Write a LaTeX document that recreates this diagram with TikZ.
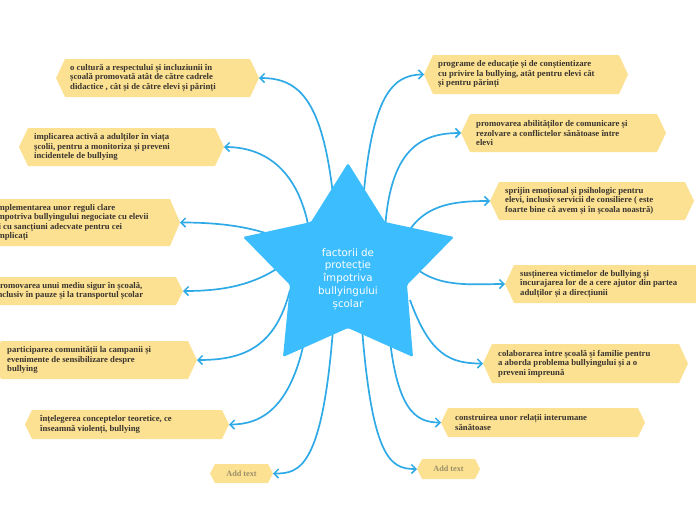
\documentclass[tikz,border=0pt]{standalone}
\usepackage{fontspec}
\setmainfont{Liberation Serif}
\newfontfamily\starfont{DejaVu Sans}
\usetikzlibrary{arrows.meta}
\definecolor{boxfill}{HTML}{FCE192}
\definecolor{txtcol}{HTML}{3A3530}
\definecolor{addcol}{HTML}{9A8F6A}
\definecolor{linkcol}{HTML}{2FAAE6}
\definecolor{starcol}{HTML}{3CBDFD}
\tikzset{
  boxnode/.style={inner sep=0pt, outer sep=0pt, minimum width=205pt, minimum height=38pt},
  btxt/.style={anchor=west, inner sep=0pt, align=left, text=txtcol,
    font=\bfseries\fontsize{8.7}{9.5}\selectfont},
  addtxt/.style={inner sep=0pt, text=addcol, font=\bfseries\fontsize{8.2}{9}\selectfont},
  link/.style={draw=linkcol, line width=1.7pt, -{Straight Barb[length=4.5pt,width=9pt,line width=1.5pt]}},
}
\begin{document}
\begin{tikzpicture}[x=1pt,y=-1pt]
\useasboundingbox (0,0) rectangle (696,520);
% box nodes
\node[boxnode, minimum width=203pt] (L1) at (157.5,78) {};
\node[boxnode] (L2) at (121.5,147) {};
\node[boxnode, minimum height=47pt] (L3) at (77.5,222.5) {};
\node[boxnode, minimum height=28pt] (L4) at (80.5,291) {};
\node[boxnode] (L5) at (94.5,360) {};
\node[boxnode, minimum width=204pt, minimum height=29pt] (L6) at (127,424.5) {};
\node[boxnode, minimum width=63pt, minimum height=19pt] (L7) at (241.5,473.5) {};
\node[boxnode, minimum width=204pt, minimum height=39pt] (R1) at (526,74.5) {};
\node[boxnode] (R2) at (563.5,133) {};
\node[boxnode, minimum width=204pt] (R3) at (592,201) {};
\node[boxnode] (R4) at (607.5,284) {};
\node[boxnode, minimum height=39pt] (R5) at (585.5,363.5) {};
\node[boxnode, minimum width=204pt, minimum height=29pt] (R6) at (543,422.5) {};
\node[boxnode, minimum width=63pt, minimum height=20pt] (R7) at (448.5,469) {};
% hexagon fills
\foreach \n/\i in {L1/9,L2/9,L3/10,L4/7,L5/9,L6/7,L7/5,R1/9,R2/9,R3/9,R4/9,R5/9,R6/7,R7/5}{
  \fill[boxfill] (\n.west) -- ([xshift=\i]\n.north west) -- ([xshift=-\i]\n.north east)
    -- (\n.east) -- ([xshift=-\i]\n.south east) -- ([xshift=\i]\n.south west) -- cycle;
}
% texts
\node[btxt] (L1t) at (70,78) {o cultură a respectului și incluziunii în\\școală promovată atât de către cadrele\\didactice , cât și de către elevi și părinți};
\node[btxt] (L2t) at (34,147) {implicarea activă a adulților în viața\\școlii, pentru a monitoriza și preveni\\incidentele de bullying};
\node[btxt] (L3t) at (-5,222.5) {implementarea unor reguli clare\\împotriva bullyingului negociate cu elevii\\și cu sancțiuni adecvate pentru cei\\implicați};
\node[btxt] (L4t) at (-5,291) {promovarea unui mediu sigur în școală,\\inclusiv în pauze și la transportul școlar};
\node[btxt] (L5t) at (7,360) {participarea comunității la campanii și\\evenimente de sensibilizare despre\\bullying};
\node[btxt] (L6t) at (40,424.5) {înțelegerea conceptelor teoretice, ce\\înseamnă violenți, bullying};
\node[addtxt] (L7t) at (241.5,473.5) {Add text};
\node[btxt] (R1t) at (438,74.5) {programe de educație și de conștientizare\\cu privire la bullying, atât pentru elevi cât\\și pentru părinți};
\node[btxt] (R2t) at (476,133) {promovarea abilităților de comunicare și\\rezolvare a conflictelor sănătoase între\\elevi};
\node[btxt] (R3t) at (505,201) {sprijin emoțional și psihologic pentru\\elevi, inclusiv servicii de consiliere ( este\\foarte bine că avem și în școala noastră)};
\node[btxt] (R4t) at (520,284) {susținerea victimelor de bullying și\\încurajarea lor de a cere ajutor din partea\\adulților și a direcțiunii};
\node[btxt] (R5t) at (498,363.5) {colaborarea între școală și familie pentru\\a aborda problema bullyingului și a o\\preveni împreună};
\node[btxt] (R6t) at (455,422.5) {construirea unor relații interumane\\sănătoase};
\node[addtxt] (R7t) at (448.5,469) {Add text};
% connector starts (hidden behind the star)
\coordinate (sL1) at (335,215);
\coordinate (sL2) at (310,235);
\coordinate (sL3) at (300,250);
\coordinate (sL4) at (300,250);
\coordinate (sL5) at (290,290);
\coordinate (sL6) at (308,320);
\coordinate (sL7) at (335,300);
\coordinate (sR1) at (362,215);
\coordinate (sR2) at (385,230);
\coordinate (sR3) at (400,250);
\coordinate (sR4) at (400,250);
\coordinate (sR5) at (410,300);
\coordinate (sR6) at (388,320);
\coordinate (sR7) at (360,300);
% connectors
\draw[link] (sL1) .. controls (325,100) and (300,78) .. (L1.east);
\draw[link] (sL2) .. controls (300,170) and (265,147) .. (L2.east);
\draw[link] (sL3) .. controls (270,228) and (225,222.5) .. (L3.east);
\draw[link] (sL4) .. controls (265,285) and (225,291) .. (L4.east);
\draw[link] (sL5) .. controls (275,350) and (240,360) .. (L5.east);
\draw[link] (sL6) .. controls (295,410) and (260,424.5) .. (L6.east);
\draw[link] (sL7) .. controls (325,470) and (300,473.5) .. (L7.east);
\draw[link] (sR1) .. controls (370,100) and (390,74.5) .. (R1.west);
\draw[link] (sR2) .. controls (390,150) and (420,133) .. (R2.west);
\draw[link] (sR3) .. controls (415,205) and (450,201) .. (R3.west);
\draw[link] (sR4) .. controls (425,290) and (465,284) .. (R4.west);
\draw[link] (sR5) .. controls (430,355) and (450,363.5) .. (R5.west);
\draw[link] (sR6) .. controls (395,410) and (415,422.5) .. (R6.west);
\draw[link] (sR7) .. controls (370,460) and (390,469) .. (R7.west);
% star
\fill[starcol, rounded corners=1.5pt] (348,163) -- (385,222) -- (454,237) -- (407,285) -- (413,357)
  -- (348,328) -- (283,357) -- (290,285) -- (243,237) -- (311,222) -- cycle;
\node[align=center, text=white, inner sep=0pt, font=\starfont\fontsize{10.3}{12.7}\selectfont] (C) at (348,279)
  {factorii de\\protecție\\împotriva\\bullyingului\\școlar};
\end{tikzpicture}
\end{document}
